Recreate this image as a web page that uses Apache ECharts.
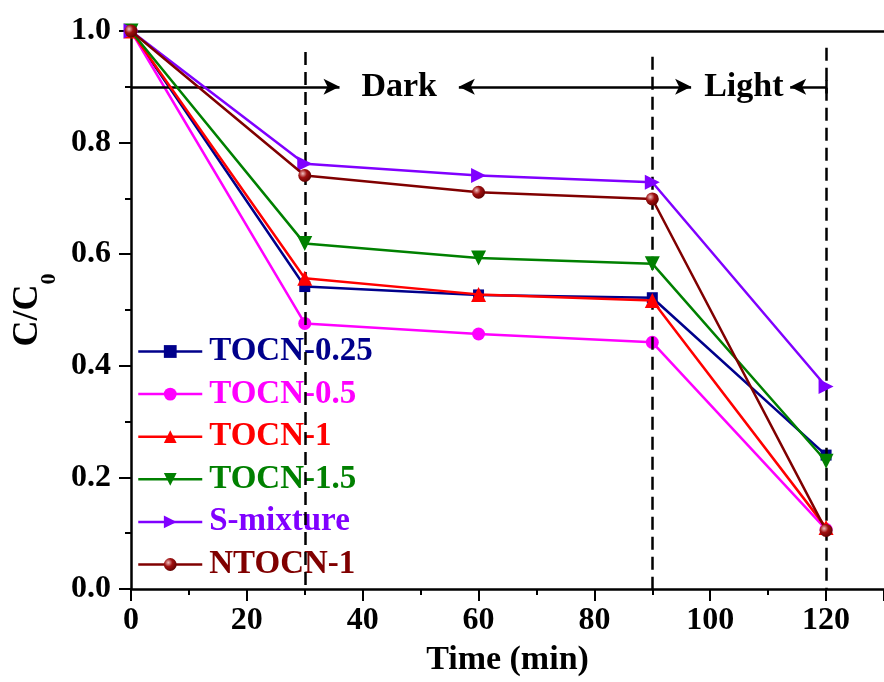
<!DOCTYPE html>
<html>
<head>
<meta charset="utf-8">
<script src="https://cdn.jsdelivr.net/npm/echarts@6/dist/echarts.min.js"></script>
<style>
html,body{margin:0;padding:0;background:#fff;}
#chart{width:884px;height:682px;}
</style>
</head>
<body>
<div id="chart"></div>
<script>
// ---- data ----
var timeMin = [0, 30, 60, 90, 120];
var seriesNames = ['TOCN-0.25', 'TOCN-0.5', 'TOCN-1', 'TOCN-1.5', 'S-mixture', 'NTOCN-1'];
var tocn025 = [1.0, 0.542, 0.527, 0.522, 0.240];
var tocn05  = [1.0, 0.476, 0.457, 0.442, 0.107];
var tocn1   = [1.0, 0.557, 0.528, 0.517, 0.110];
var tocn15  = [1.0, 0.619, 0.593, 0.583, 0.229];
var smix    = [1.0, 0.762, 0.741, 0.729, 0.363];
var ntocn1  = [1.0, 0.741, 0.711, 0.699, 0.105];
var xTicks = [0, 20, 40, 60, 80, 100, 120];
var yTicks = [0.0, 0.2, 0.4, 0.6, 0.8, 1.0];
// annotation values
var phaseLines = [[30, 0.9625], [90, 0.954], [120, 0.97]];
var arrowLevel = 0.9;
var arrowDark = [0, 36.0];
var arrowBoth = [56.6, 96.7];
var arrowLight = [113.8, 120];
var phaseLabels = [[46.3, 0.9, 'Dark'], [105.8, 0.9, 'Light']];

var FONT = '"Liberation Serif", "Times New Roman", serif';
var colors = ['#00008B', '#FF00FF', '#FF0000', '#008000', '#8000FF', '#800000'];
var symbols = ['rect', 'circle', 'triangle', 'triangle', 'triangle', 'circle'];
var rotates = [0, 0, 0, 180, -90, 0];
var sizes = [11, 13, 15, 15, 15, 13];
var values = [tocn025, tocn05, tocn1, tocn15, smix, ntocn1];

function pairs(v) { return timeMin.map(function (t, i) { return [t, v[i]]; }); }

var series = values.map(function (v, i) {
  var itemColor = colors[i];
  if (i === 5) {
    itemColor = new echarts.graphic.RadialGradient(0.35, 0.35, 0.7, [
      {offset: 0, color: '#f0c0c0'},
      {offset: 0.45, color: '#a01010'},
      {offset: 1, color: '#600000'}
    ]);
  }
  return {
    name: seriesNames[i],
    type: 'line',
    data: pairs(v),
    symbol: symbols[i],
    symbolRotate: rotates[i],
    symbolSize: sizes[i],
    showAllSymbol: true,
    clip: false,
    lineStyle: {color: colors[i], width: 2.5},
    itemStyle: {color: itemColor, borderWidth: 0},
    emphasis: {disabled: true},
    z: 3 + i
  };
});

var dashStyle = {color: '#000', width: 2.5, type: [13, 7]};
var solidStyle = {color: '#000', width: 2.5, type: 'solid'};
var mlData = [];
phaseLines.forEach(function (p) {
  mlData.push([{coord: [p[0], p[1]], lineStyle: dashStyle, symbol: 'none'}, {coord: [p[0], 0], symbol: 'none'}]);
});
mlData.push([{coord: [arrowDark[0], arrowLevel], lineStyle: solidStyle, symbol: 'none'}, {coord: [arrowDark[1], arrowLevel], symbol: 'arrow'}]);
mlData.push([{coord: [arrowBoth[0], arrowLevel], lineStyle: solidStyle, symbol: 'arrow'}, {coord: [arrowBoth[1], arrowLevel], symbol: 'arrow'}]);
mlData.push([{coord: [arrowLight[0], arrowLevel], lineStyle: solidStyle, symbol: 'arrow'}, {coord: [arrowLight[1], arrowLevel], symbol: 'none'}]);
mlData.push([{coord: [arrowLight[1], arrowLevel + 0.012], lineStyle: solidStyle, symbol: 'none'}, {coord: [arrowLight[1], arrowLevel - 0.012], symbol: 'none'}]);

series.push({
  name: 'annotations',
  type: 'scatter',
  data: phaseLabels.map(function (d) { return {value: [d[0], d[1]], name: d[2]}; }),
  symbolSize: 0,
  itemStyle: {color: '#000', opacity: 1},
  label: {
    show: true, position: 'inside', formatter: '{b}',
    color: '#000', opacity: 1, textBorderWidth: 0,
    fontFamily: FONT, fontWeight: 'bold', fontSize: 34
  },
  emphasis: {disabled: true},
  silent: true,
  z: 10,
  markLine: {
    silent: true,
    animation: false,
    symbolSize: [12, 16],
    label: {show: false},
    emphasis: {disabled: true},
    data: mlData
  }
});

var option = {
  animation: false,
  backgroundColor: '#fff',
  grid: {left: 131, top: 31, width: 755, height: 560, containLabel: false},
  legend: {
    orient: 'vertical',
    left: 137,
    top: 335,
    itemWidth: 64,
    itemHeight: 16,
    itemGap: 9.6,
    padding: 0,
    selectedMode: false,
    lineStyle: {width: 2.5},
    data: seriesNames.map(function (n, i) {
      return {name: n, textStyle: {color: colors[i]}};
    }),
    textStyle: {fontFamily: FONT, fontWeight: 'bold', fontSize: 33, lineHeight: 33, padding: [0, 0, 0, 2]}
  },
  xAxis: [{
    type: 'value',
    min: 0, max: 130, interval: 20,
    name: 'Time (min)',
    nameLocation: 'middle',
    nameGap: 54,
    nameTextStyle: {fontFamily: FONT, fontWeight: 'bold', fontSize: 34, color: '#000'},
    axisLine: {show: true, onZero: false, lineStyle: {color: '#000', width: 2.5}},
    axisTick: {show: true, inside: false, length: 12, lineStyle: {color: '#000', width: 2}},
    minorTick: {show: true, splitNumber: 2, length: 6, lineStyle: {color: '#000', width: 2}},
    splitLine: {show: false},
    axisLabel: {
      fontFamily: FONT, fontWeight: 'bold', fontSize: 32, color: '#000', margin: 16,
      showMaxLabel: false,
      formatter: function (v) { return xTicks.indexOf(v) >= 0 ? String(v) : ''; }
    }
  }, {
    type: 'value', position: 'top', min: 0, max: 130,
    axisLine: {show: true, onZero: false, lineStyle: {color: '#000', width: 2.5}},
    axisTick: {show: false}, axisLabel: {show: false}, splitLine: {show: false}
  }],
  yAxis: {
    type: 'value',
    min: 0, max: 1, interval: 0.2,
    name: '{a|C/C}{b|0}',
    nameLocation: 'middle',
    nameGap: 80,
    nameTextStyle: {
      color: '#000',
      rich: {
        a: {fontFamily: FONT, fontWeight: 'bold', fontSize: 36, color: '#000', lineHeight: 40},
        b: {fontFamily: FONT, fontWeight: 'bold', fontSize: 22, color: '#000', verticalAlign: 'bottom', padding: [0, 0, -12, 0], lineHeight: 40}
      }
    },
    axisLine: {show: true, onZero: false, lineStyle: {color: '#000', width: 2.5}},
    axisTick: {show: true, inside: false, length: 12, lineStyle: {color: '#000', width: 2}},
    minorTick: {show: true, splitNumber: 2, length: 6, lineStyle: {color: '#000', width: 2}},
    splitLine: {show: false},
    axisLabel: {
      fontFamily: FONT, fontWeight: 'bold', fontSize: 32, color: '#000', margin: 20,
      formatter: function (v) {
        for (var k = 0; k < yTicks.length; k++) { if (Math.abs(yTicks[k] - v) < 1e-9) return yTicks[k].toFixed(1); }
        return '';
      }
    }
  },
  series: series
};

var chart = echarts.init(document.getElementById('chart'), null, {renderer: 'canvas'});
chart.setOption(option);
</script>
</body>
</html>
